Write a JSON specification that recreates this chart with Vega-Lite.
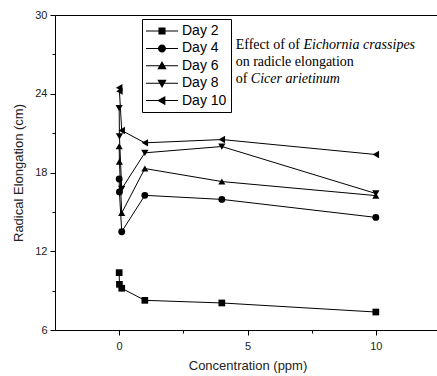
{
  "$schema": "https://vega.github.io/schema/vega-lite/v6.json",
  "width": 385,
  "height": 315,
  "autosize": {"type": "none"},
  "padding": {"left": 55, "top": 15, "right": 0, "bottom": 46},
  "background": "white",
  "config": {
    "view": {"stroke": "black", "strokeWidth": 1},
    "axis": {
      "grid": false,
      "domainColor": "black",
      "tickColor": "black",
      "labelFont": "Liberation Sans",
      "labelFontSize": 11,
      "labelColor": "#222",
      "titleFont": "Liberation Sans",
      "titleFontSize": 13,
      "titleFontWeight": "normal",
      "titleColor": "#222"
    }
  },
  "datasets": {
    "series": [
      {"conc": 0, "day": "Day 2", "value": 10.37},
      {"conc": 0.01, "day": "Day 2", "value": 9.48},
      {"conc": 0.1, "day": "Day 2", "value": 9.18},
      {"conc": 1, "day": "Day 2", "value": 8.26},
      {"conc": 4, "day": "Day 2", "value": 8.06},
      {"conc": 10, "day": "Day 2", "value": 7.37},
      {"conc": 0, "day": "Day 4", "value": 17.51},
      {"conc": 0.01, "day": "Day 4", "value": 16.52},
      {"conc": 0.1, "day": "Day 4", "value": 13.49},
      {"conc": 1, "day": "Day 4", "value": 16.26},
      {"conc": 4, "day": "Day 4", "value": 15.95},
      {"conc": 10, "day": "Day 4", "value": 14.58},
      {"conc": 0, "day": "Day 6", "value": 20.0},
      {"conc": 0.01, "day": "Day 6", "value": 18.83},
      {"conc": 0.1, "day": "Day 6", "value": 14.92},
      {"conc": 1, "day": "Day 6", "value": 18.3},
      {"conc": 4, "day": "Day 6", "value": 17.31},
      {"conc": 10, "day": "Day 6", "value": 16.24},
      {"conc": 0, "day": "Day 8", "value": 22.9},
      {"conc": 0.01, "day": "Day 8", "value": 20.76},
      {"conc": 0.1, "day": "Day 8", "value": 16.75},
      {"conc": 1, "day": "Day 8", "value": 19.5},
      {"conc": 4, "day": "Day 8", "value": 19.98},
      {"conc": 10, "day": "Day 8", "value": 16.4},
      {"conc": 0, "day": "Day 10", "value": 24.46},
      {"conc": 0.01, "day": "Day 10", "value": 24.2},
      {"conc": 0.1, "day": "Day 10", "value": 21.2},
      {"conc": 1, "day": "Day 10", "value": 20.26},
      {"conc": 4, "day": "Day 10", "value": 20.51},
      {"conc": 10, "day": "Day 10", "value": 19.37}
    ]
  },
  "encoding": {
    "x": {
      "field": "conc",
      "type": "quantitative",
      "scale": {"domain": [-2.5, 12.5], "nice": false, "zero": false},
      "axis": {
        "title": "Concentration (ppm)",
        "values": [0, 2.5, 5, 7.5, 10],
        "labelExpr": "datum.value % 5 === 0 ? datum.label : ''",
        "tickSize": {"condition": {"test": "datum.value % 5 === 0", "value": 5}, "value": 3},
        "labelPadding": 5,
        "titlePadding": 8
      }
    },
    "y": {
      "field": "value",
      "type": "quantitative",
      "scale": {"domain": [6, 30], "nice": false, "zero": false},
      "axis": {
        "title": "Radical Elongation (cm)",
        "values": [6, 9, 12, 15, 18, 21, 24, 27, 30],
        "labelExpr": "datum.value % 6 === 0 ? datum.label : ''",
        "tickSize": {"condition": {"test": "datum.value % 6 === 0", "value": 5}, "value": 3},
        "labelPadding": 3,
        "titlePadding": 9
      }
    }
  },
  "layer": [
    {
      "data": {"name": "series"},
      "mark": {"type": "line", "color": "black", "strokeWidth": 1},
      "encoding": {"detail": {"field": "day"}}
    },
    {
      "data": {"name": "series"},
      "mark": {"type": "point", "filled": true, "color": "black", "opacity": 1},
      "encoding": {
        "shape": {
          "field": "day",
          "scale": {
            "domain": ["Day 2", "Day 4", "Day 6", "Day 8", "Day 10"],
            "range": ["square", "circle", "triangle-up", "triangle-down", "triangle-left"]
          },
          "legend": null
        },
        "size": {
          "field": "day",
          "scale": {
            "domain": ["Day 2", "Day 4", "Day 6", "Day 8", "Day 10"],
            "range": [45, 55, 70, 70, 70]
          },
          "legend": null
        }
      }
    },
    {
      "data": {"name": "series"},
      "transform": [{"filter": "false"}],
      "mark": {"type": "point", "filled": true, "color": "black", "opacity": 1},
      "encoding": {
        "shape": {
          "field": "day",
          "scale": {
            "domain": ["Day 2", "Day 4", "Day 6", "Day 8", "Day 10"],
            "range": [
              "M-1,-0.06H3V0.06H-1ZM0.56,-0.44H1.44V0.44H0.56Z",
              "M-1,-0.06H3V0.06H-1ZM1.5,0A0.5,0.5 0 1,1 0.5,0A0.5,0.5 0 1,1 1.5,0Z",
              "M-1,-0.06H3V0.06H-1ZM1,-0.6L1.58,0.42L0.42,0.42Z",
              "M-1,-0.06H3V0.06H-1ZM1,0.6L0.42,-0.42L1.58,-0.42Z",
              "M-1,-0.06H3V0.06H-1ZM0.4,0L1.42,-0.58L1.42,0.58Z"
            ]
          },
          "legend": {
            "title": null,
            "orient": "none",
            "legendX": 87,
            "legendY": 4,
            "strokeColor": "black",
            "padding": 4,
            "symbolSize": 256,
            "symbolFillColor": "black",
            "symbolStrokeColor": "black",
            "symbolStrokeWidth": 0,
            "symbolOpacity": 1,
            "labelFont": "Liberation Sans",
            "labelFontSize": 14,
            "labelColor": "black",
            "labelOffset": 20,
            "rowPadding": 2.4
          }
        }
      }
    },
    {
      "data": {"values": [
        {"conc": 4.54, "value": 27.71, "label": "Effect of of"},
        {"conc": 4.54, "value": 26.42, "label": "on radicle elongation"},
        {"conc": 4.54, "value": 25.12, "label": "of"}
      ]},
      "mark": {"type": "text", "align": "left", "baseline": "middle", "font": "Liberation Serif", "fontSize": 14, "color": "black"},
      "encoding": {"text": {"field": "label"}}
    },
    {
      "data": {"values": [
        {"conc": 7.18, "value": 27.71, "label": "Eichornia crassipes"},
        {"conc": 5.13, "value": 25.12, "label": "Cicer arietinum"}
      ]},
      "mark": {"type": "text", "align": "left", "baseline": "middle", "font": "Liberation Serif", "fontSize": 14, "fontStyle": "italic", "color": "black"},
      "encoding": {"text": {"field": "label"}}
    }
  ],
  "resolve": {"scale": {"shape": "independent", "size": "independent"}, "legend": {"shape": "independent"}}
}
